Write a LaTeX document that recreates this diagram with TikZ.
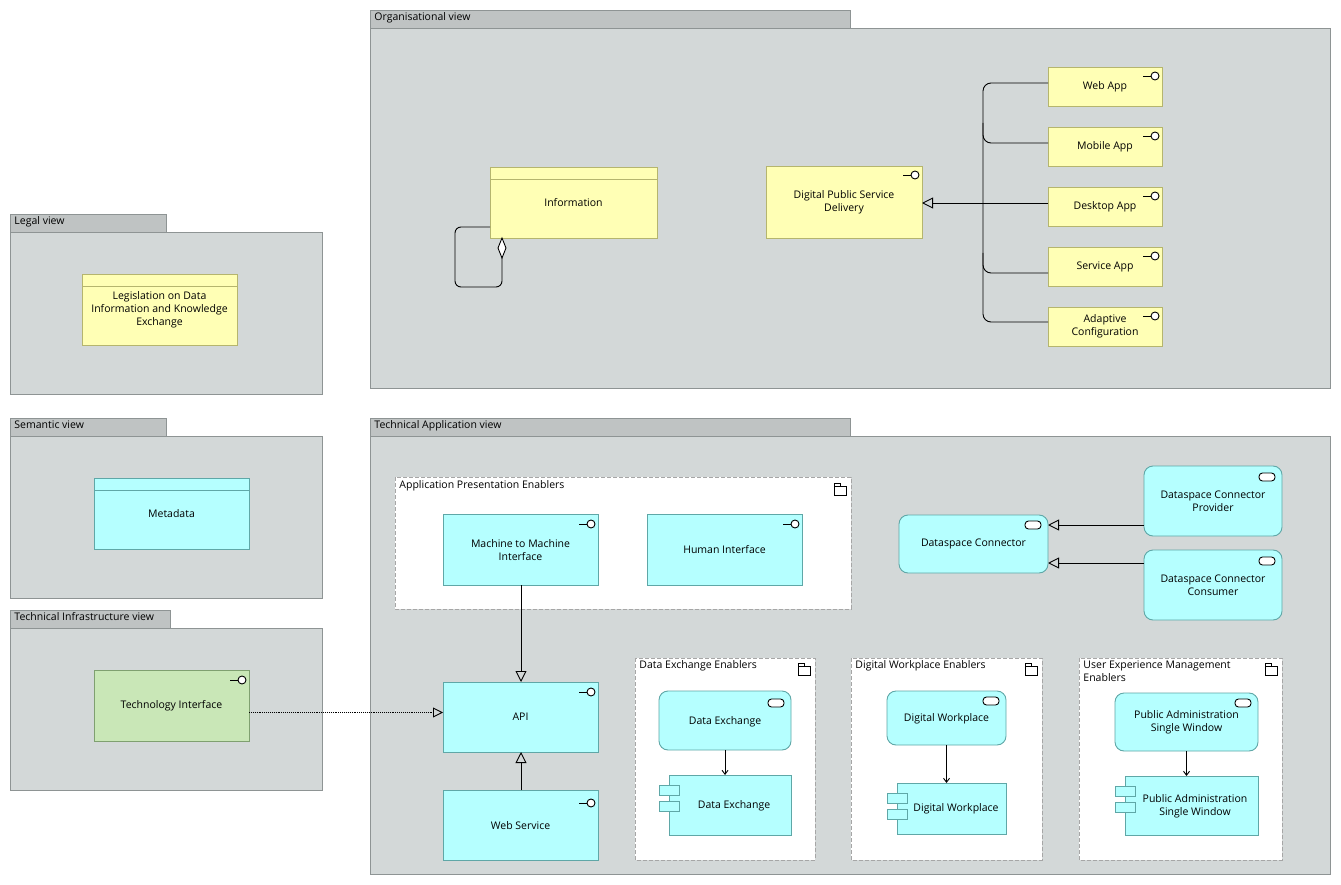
\documentclass[tikz,border=0pt]{standalone}
\usepackage{fontspec}
\setmainfont{Open Sans}
\usetikzlibrary{arrows.meta}
\definecolor{vbg}{HTML}{D3D8D8}
\definecolor{vtab}{HTML}{BFC3C3}
\definecolor{vbd}{HTML}{8E9494}
\definecolor{yel}{HTML}{FFFFB5}
\definecolor{yelb}{HTML}{B5B56E}
\definecolor{cy}{HTML}{B5FFFF}
\definecolor{cyb}{HTML}{5FA7A7}
\definecolor{grn}{HTML}{C9E7B7}
\definecolor{grnb}{HTML}{7FA070}
\tikzset{
 every path/.style={line width=0.9pt},
 txt/.style={font=\fontsize{10.5}{13}\selectfont, align=center, inner sep=0},
 lbl/.style={font=\fontsize{10.5}{13}\selectfont, anchor=north west, inner sep=0, align=left},
 ybox/.style={fill=yel, draw=yelb},
 cbox/.style={fill=cy, draw=cyb},
 gbox/.style={fill=grn, draw=grnb},
 grp/.style={fill=white, draw=gray!70, dash pattern=on 4pt off 2pt},
 spec/.style={-{Triangle[open,length=11pt,width=11pt]}},
 flow/.style={-{Straight Barb[length=4pt,width=6pt]}},
}
\newcommand{\viewbox}[6]{% x1 y1 tabx2 x2 y2 label
 \fill[vtab,draw=vbd] (#1,#2) rectangle (#3,#2+18);
 \fill[vbg,draw=vbd] (#1,#2+18) rectangle (#4,#5);
 \node[lbl] at (#1+4,#2+2) {#6};}
\newcommand{\iface}[2]{\draw (#1-14,#2) -- (#1-6,#2); \draw[fill=white] (#1-2,#2) circle (4);}
\newcommand{\svc}[2]{\draw[fill=white,rounded corners=3.5] (#1-18,#2-4) rectangle (#1-2,#2+4);}
\newcommand{\folder}[2]{\draw[fill=white] (#1-12,#2-3) rectangle (#1,#2+6); \draw (#1-12,#2-3) -- (#1-12,#2-6) -- (#1-6,#2-6) -- (#1-6,#2-3);}
\newcommand{\comp}[2]{\draw[cbox] (#1-10,#2-8) rectangle (#1+10,#2+2); \draw[cbox] (#1-10,#2+8) rectangle (#1+10,#2+18);}
\begin{document}
\begin{tikzpicture}[x=1pt,y=-1pt]
\useasboundingbox (0,0) rectangle (1341,885);
\fill[white] (0,0) rectangle (1341,885);
\viewbox{370}{10}{850}{1330}{388}{Organisational view}
\viewbox{10}{214}{166}{322}{394}{Legal view}
\viewbox{10}{418}{166}{322}{598}{Semantic view}
\viewbox{10}{610}{170}{322}{790}{Technical Infrastructure view}
\viewbox{370}{418}{850}{1330}{874}{Technical Application view}

% Organisational
\draw[ybox] (490,167) rectangle (657,238); \draw[yelb] (490,179) -- (657,179);
\node[txt] (info) at (573.5,203) {Information};
\draw[rounded corners=6] (490,227) -- (455,227) -- (455,287) -- (502,287) -- (502,258);
\draw[fill=white] (502,238) -- (506,248) -- (502,258) -- (498,248) -- cycle;
\draw[ybox] (766,166) rectangle (922,238); \iface{917}{175}
\node[txt] (dpsd) at (844,202) {Digital Public Service\\Delivery};
\coordinate (dpsdE) at (922,203);
\foreach \y/\t in {67/Web App,127/Mobile App,187/Desktop App,247/Service App,307/Adaptive\\Configuration}{
 \draw[ybox] (1048,\y) rectangle (1162,\y+39); \iface{1157}{\y+9}
 \node[txt] at (1105,\y+19.5) {\t};}
\draw[rounded corners=8] (1048,83) -- (983,83) -- (983,322) -- (1048,322);
\foreach \y in {143,273}{\draw[rounded corners=8] (1048,\y) -- (983,\y) -- (983,\y-20);}
\draw (1048,203) -- (983,203);
\draw[spec] (983,203) -- (dpsdE);

% Legal, semantic, infra
\draw[ybox] (82,274) rectangle (237,345); \draw[yelb] (82,286) -- (237,286);
\node[txt] (leg) at (159.5,310) {Legislation on Data\\Information and Knowledge\\Exchange};
\draw[cbox] (94,478) rectangle (249,549); \draw[cyb] (94,490) -- (249,490);
\node[txt] (meta) at (171.5,514) {Metadata};
\draw[gbox] (94,670) rectangle (249,741); \iface{244}{680}
\node[txt] (ti) at (171.5,706) {Technology Interface};

% Technical application
\draw[grp] (395,477) rectangle (851,609);
\node[lbl] at (399,480) {Application Presentation Enablers}; \folder{846}{489}
\draw[cbox] (443,514) rectangle (598,585); \iface{593}{524}
\node[txt] (m2m) at (520.5,550) {Machine to Machine\\Interface};
\draw[cbox] (647,514) rectangle (802,585); \iface{797}{524}
\node[txt] (hi) at (724.5,550) {Human Interface};
\draw[cbox] (443,682) rectangle (598,752); \iface{593}{692}
\node[txt] (api) at (520.5,717) {API};
\draw[cbox] (443,790) rectangle (598,860); \iface{593}{803}
\node[txt] (ws) at (520.5,826) {Web Service};
\draw[spec] (521,585) -- (521,682);
\draw[spec] (521,790) -- (521,752);
\draw[densely dotted,-{Triangle[open,length=10pt,width=10pt]}] (249,712.5) -- (443,712.5);

\draw[cbox,rounded corners=9] (899,515) rectangle (1048,573); \svc{1043}{525}
\node[txt] (dc) at (973.5,544) {Dataspace Connector};
\draw[cbox,rounded corners=9] (1144,466) rectangle (1282,536); \svc{1277}{477}
\node[txt] (dcp) at (1213,501) {Dataspace Connector\\Provider};
\draw[cbox,rounded corners=9] (1144,550) rectangle (1282,620); \svc{1277}{561}
\node[txt] (dcc) at (1213,585) {Dataspace Connector\\Consumer};
\draw[spec] (1144,525) -- (1048,525);
\draw[spec] (1144,563) -- (1048,563);

\draw[grp] (635,658) rectangle (815,860);
\node[lbl] at (639,660) {Data Exchange Enablers}; \folder{810}{669}
\draw[cbox,rounded corners=9] (659,691) rectangle (791,750); \svc{786}{703}
\node[txt] (dx) at (725,721.5) {Data Exchange};
\draw[cbox] (669,775) rectangle (791,835); \comp{669}{793}
\node[txt] (dxc) at (734,806) {Data Exchange};
\draw[flow] (725,750) -- (725,775);

\draw[grp] (851,658) rectangle (1042,860);
\node[lbl] at (855,660) {Digital Workplace Enablers}; \folder{1037}{669}
\draw[cbox,rounded corners=9] (887,691) rectangle (1006,745); \svc{1001}{701}
\node[txt] (dw) at (946.5,719) {Digital Workplace};
\draw[cbox] (897,783) rectangle (1006,834); \comp{897}{801}
\node[txt] (dwc) at (956,809) {Digital Workplace};
\draw[flow] (946.5,745) -- (946.5,783);

\draw[grp] (1079,658) rectangle (1282,860);
\node[lbl] at (1083,660) {User Experience Management\\Enablers}; \folder{1277}{669}
\draw[cbox,rounded corners=9] (1115,693) rectangle (1258,751); \svc{1253}{703}
\node[txt] (pa) at (1186.5,722) {Public Administration\\Single Window};
\draw[cbox] (1125,776) rectangle (1258,835); \comp{1125}{794}
\node[txt] (pac) at (1195,806) {Public Administration\\Single Window};
\draw[flow] (1186.5,751) -- (1186.5,776);
\end{tikzpicture}
\end{document}
